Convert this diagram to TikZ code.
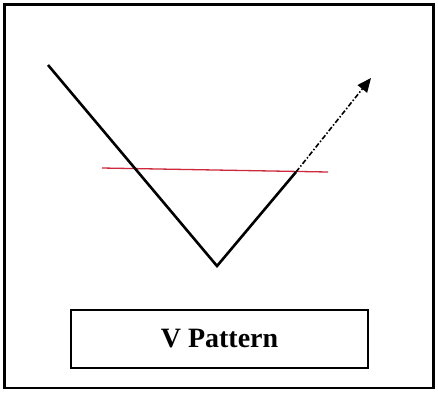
\documentclass[tikz,border=0pt]{standalone}
\usepackage{fontspec}
\setmainfont{Liberation Serif}
\usetikzlibrary{arrows.meta}
\begin{document}
\begin{tikzpicture}[x=1pt,y=-1pt,
  frame/.style={draw=black,line width=2.4pt},
  vline/.style={draw=black,line width=2.6pt,line join=miter},
  redline/.style={draw={rgb,255:red,205;green,40;blue,60},line width=1.3pt},
  trend/.style={draw=black,line width=1.6pt,dash pattern=on 5pt off 2pt on 1.5pt off 2pt,-{Triangle[length=14pt,width=12pt]}},
  labelbox/.style={draw=black,line width=1.6pt,minimum width=297pt,minimum height=58pt,inner sep=0pt,font=\bfseries\fontsize{28}{30}\selectfont}]
\useasboundingbox (0,0) rectangle (438,392);
\draw[frame] (4.5,4.5) rectangle (433.5,388);
\coordinate (a) at (48,65);
\coordinate (b) at (217,266);
\coordinate (c) at (296,172);
\coordinate (d) at (371,78);
\coordinate (r1) at (102,168);
\coordinate (r2) at (328,172);
\draw[redline] (r1) -- (r2);
\draw[vline] (a) -- (b) -- (c);
\draw[trend] (c) -- (d);
\node[labelbox] (lbl) at (219.5,339) {V Pattern};
\end{tikzpicture}
\end{document}
